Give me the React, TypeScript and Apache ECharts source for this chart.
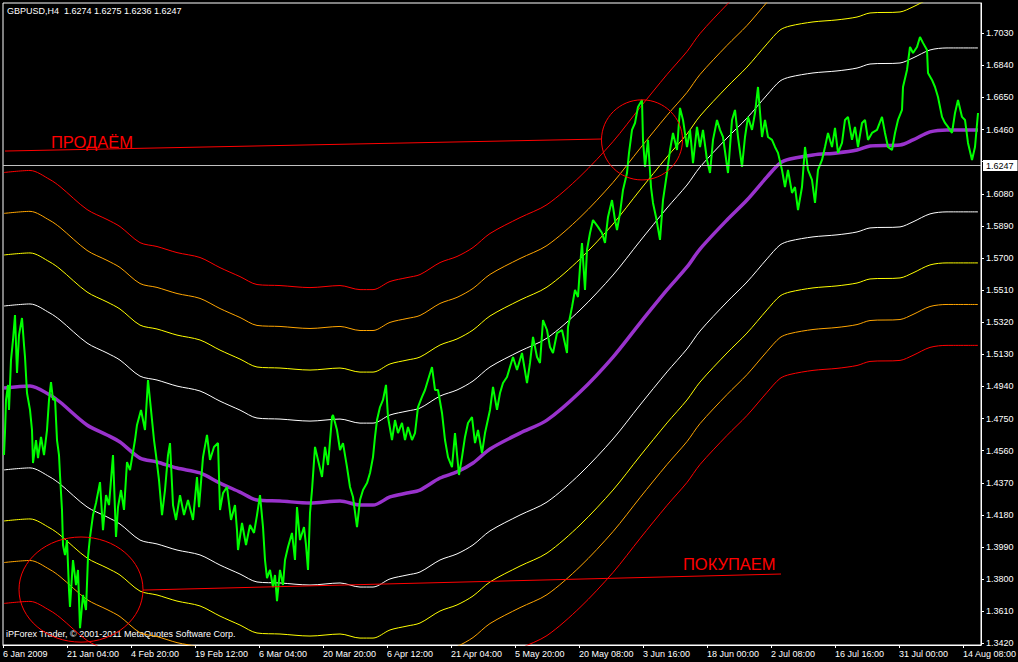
import React, { useEffect, useRef } from 'react';
import * as echarts from 'echarts';

const chartTitle = 'GBPUSD,H4  1.6274 1.6275 1.6236 1.6247';
const copyright = 'iPForex Trader, © 2001-2011 MetaQuotes Software Corp.';
const sellText = 'ПРОДАЁМ';
const buyText = 'ПОКУПАЕМ';
const lastPrice = 1.6247;

const xTickBars = [0, 64, 128, 192, 256, 320, 384, 448, 512, 576, 640, 704, 768, 832, 896, 960];
const xTickLabels = [
  '6 Jan 2009', '21 Jan 04:00', '4 Feb 20:00', '19 Feb 12:00', '6 Mar 04:00', '20 Mar 20:00',
  '6 Apr 12:00', '21 Apr 04:00', '5 May 20:00', '20 May 08:00', '3 Jun 16:00', '18 Jun 00:00',
  '2 Jul 08:00', '16 Jul 16:00', '31 Jul 00:00', '14 Aug 08:00',
];
const yTickValues = [
  1.342, 1.361, 1.38, 1.399, 1.418, 1.437, 1.456, 1.475, 1.494, 1.513,
  1.532, 1.551, 1.57, 1.589, 1.608, 1.627, 1.646, 1.665, 1.684, 1.703,
];

// close price line: [bar, price]
const closeLine: [number, number][] = [
  [1, 1.4534], [2, 1.4670], [3, 1.4860], [5, 1.4949], [6, 1.4801], [8, 1.5097], [10, 1.5215], [12, 1.5363],
  [14, 1.5020], [16, 1.5244], [19, 1.5345], [21, 1.5185], [22, 1.5114], [24, 1.4901], [27, 1.4801], [29, 1.4682],
  [30, 1.4487], [33, 1.4623], [35, 1.4516], [38, 1.4641], [41, 1.4534], [44, 1.4682], [46, 1.4860], [48, 1.4966],
  [50, 1.4860], [52, 1.4872], [54, 1.4623], [56, 1.4534], [57, 1.4416], [59, 1.4209], [60, 1.4002], [62, 1.3942],
  [64, 1.4031], [66, 1.3735], [67, 1.3635], [70, 1.3913], [73, 1.3765], [75, 1.3854], [77, 1.3510], [80, 1.3706],
  [83, 1.3617], [85, 1.3931], [87, 1.4049], [90, 1.4179], [93, 1.4250], [97, 1.4374], [100, 1.4090], [103, 1.4297],
  [106, 1.4238], [110, 1.4534], [113, 1.4049], [115, 1.4226], [118, 1.4327], [121, 1.4209], [124, 1.4493], [127, 1.4445],
  [132, 1.4623], [134, 1.4712], [138, 1.4801], [142, 1.4682], [145, 1.4978], [148, 1.4801], [151, 1.4623], [153, 1.4534],
  [156, 1.4386], [159, 1.4179], [162, 1.4327], [165, 1.4534], [167, 1.4605], [170, 1.4238], [173, 1.4150], [177, 1.4297],
  [181, 1.4179], [185, 1.4268], [190, 1.4150], [194, 1.4404], [196, 1.4226], [200, 1.4522], [204, 1.4653], [207, 1.4505],
  [211, 1.4582], [215, 1.4605], [217, 1.4209], [220, 1.4309], [224, 1.4345], [228, 1.4150], [232, 1.4238], [234, 1.4090],
  [235, 1.3972], [239, 1.4132], [243, 1.4002], [247, 1.4120], [251, 1.4073], [254, 1.4179], [257, 1.4297], [260, 1.4108],
  [262, 1.3913], [264, 1.3806], [267, 1.3854], [270, 1.3753], [272, 1.3824], [274, 1.3670], [277, 1.3854], [280, 1.3765],
  [282, 1.3913], [285, 1.3990], [289, 1.4073], [292, 1.3913], [294, 1.4226], [297, 1.4031], [301, 1.4108], [303, 1.4002],
  [305, 1.3854], [307, 1.4191], [309, 1.4327], [312, 1.4582], [315, 1.4505], [319, 1.4404], [322, 1.4582], [325, 1.4475],
  [329, 1.4759], [330, 1.4771], [334, 1.4682], [337, 1.4564], [340, 1.4605], [344, 1.4463], [347, 1.4345], [350, 1.4286],
  [354, 1.4108], [357, 1.4268], [360, 1.4327], [364, 1.4368], [367, 1.4428], [370, 1.4522], [372, 1.4641], [374, 1.4741],
  [377, 1.4818], [380, 1.4860], [383, 1.4949], [385, 1.4759], [389, 1.4623], [392, 1.4741], [395, 1.4664], [399, 1.4724],
  [402, 1.4623], [405, 1.4700], [409, 1.4623], [412, 1.4664], [415, 1.4818], [419, 1.4878], [422, 1.4919], [425, 1.4978],
  [429, 1.5055], [432, 1.4919], [435, 1.4919], [439, 1.4783], [442, 1.4623], [445, 1.4522], [449, 1.4463], [452, 1.4664],
  [456, 1.4416], [459, 1.4522], [462, 1.4641], [465, 1.4724], [469, 1.4759], [472, 1.4605], [475, 1.4682], [479, 1.4546],
  [482, 1.4664], [487, 1.4801], [490, 1.4937], [494, 1.4801], [497, 1.4901], [500, 1.4960], [504, 1.4996], [507, 1.5055],
  [510, 1.5114], [514, 1.5037], [519, 1.5138], [524, 1.4960], [527, 1.5079], [530, 1.5233], [534, 1.5114], [537, 1.5079],
  [540, 1.5333], [544, 1.5274], [547, 1.5173], [550, 1.5138], [554, 1.5256], [559, 1.5274], [564, 1.5138], [565, 1.5292],
  [569, 1.5410], [572, 1.5511], [575, 1.5469], [577, 1.5647], [579, 1.5789], [582, 1.5511], [584, 1.5748], [587, 1.5848],
  [590, 1.5925], [595, 1.5884], [599, 1.5848], [602, 1.5789], [605, 1.5943], [609, 1.6043], [612, 1.5925], [614, 1.5866],
  [617, 1.5966], [620, 1.6103], [624, 1.6203], [626, 1.6322], [629, 1.6458], [632, 1.6499], [635, 1.6594], [639, 1.6635],
  [640, 1.6399], [642, 1.6239], [645, 1.6399], [648, 1.6120], [650, 1.6026], [653, 1.5943], [657, 1.5807], [660, 1.6043],
  [664, 1.6203], [667, 1.6339], [670, 1.6440], [674, 1.6339], [677, 1.6588], [680, 1.6517], [684, 1.6357], [687, 1.6458],
  [690, 1.6262], [694, 1.6476], [697, 1.6357], [700, 1.6458], [704, 1.6280], [707, 1.6203], [710, 1.6399], [714, 1.6517],
  [717, 1.6458], [720, 1.6416], [725, 1.6203], [729, 1.6517], [732, 1.6576], [735, 1.6416], [739, 1.6239], [742, 1.6416],
  [745, 1.6535], [749, 1.6458], [752, 1.6558], [755, 1.6712], [759, 1.6416], [762, 1.6517], [765, 1.6416], [769, 1.6399],
  [772, 1.6357], [775, 1.6322], [779, 1.6221], [782, 1.6120], [785, 1.6221], [789, 1.6085], [792, 1.6120], [795, 1.5984],
  [799, 1.6120], [802, 1.6357], [805, 1.6221], [809, 1.6162], [812, 1.6026], [815, 1.6221], [819, 1.6280], [822, 1.6357],
  [825, 1.6440], [829, 1.6357], [832, 1.6470], [835, 1.6322], [839, 1.6381], [842, 1.6517], [845, 1.6535], [849, 1.6399],
  [852, 1.6476], [855, 1.6357], [859, 1.6499], [862, 1.6517], [865, 1.6399], [869, 1.6440], [874, 1.6458], [879, 1.6535],
  [882, 1.6440], [885, 1.6357], [889, 1.6339], [892, 1.6440], [895, 1.6517], [899, 1.6576], [900, 1.6712], [904, 1.6813],
  [907, 1.6949], [910, 1.6913], [914, 1.6949], [917, 1.7008], [920, 1.6973], [924, 1.6931], [925, 1.6795], [929, 1.6754],
  [932, 1.6712], [935, 1.6653], [939, 1.6535], [942, 1.6499], [945, 1.6476], [949, 1.6440], [952, 1.6558], [955, 1.6635],
  [959, 1.6535], [962, 1.6517], [965, 1.6381], [969, 1.6280], [972, 1.6357], [975, 1.6558],
];

// smoothed centre line (purple): [bar, price]
const centerLine: [number, number][] = [
  [1, 1.4931], [27, 1.4943], [47, 1.4889], [57, 1.4848], [84, 1.4712], [104, 1.4653], [117, 1.4611], [137, 1.4516],
  [154, 1.4493], [174, 1.4457], [197, 1.4428], [217, 1.4368], [237, 1.4315], [254, 1.4268], [277, 1.4262], [307, 1.4250],
  [337, 1.4262], [357, 1.4238], [370, 1.4238], [387, 1.4286], [404, 1.4309], [417, 1.4327], [437, 1.4398], [454, 1.4434],
  [470, 1.4487], [487, 1.4570], [517, 1.4664], [544, 1.4741], [577, 1.4907], [610, 1.5114], [637, 1.5315], [664, 1.5511],
  [684, 1.5647], [697, 1.5753], [724, 1.5925], [744, 1.6043], [764, 1.6180], [777, 1.6262], [787, 1.6286], [810, 1.6310],
  [834, 1.6322], [854, 1.6339], [867, 1.6363], [897, 1.6369], [910, 1.6399], [927, 1.6446], [944, 1.6458], [975, 1.6458],
];

// channel offsets around the centre line (price units) and their colours
const bandOffsets = [0.0485, 0.0787, 0.1033, 0.1275];
const bandColors = ['#FFFFFF', '#FFFF00', '#FFA500', '#FF0000'];

// hand-drawn objects
const sellLine: [number, number][] = [[2, 1.6333], [598, 1.6404]];
const buyLine: [number, number][] = [[140, 1.3735], [778, 1.3830]];
// [centre bar, centre price, radius in bars, radius in price]
const ellipses: number[][] = [
  [78, 1.3738, 62, 0.0311],
  [639, 1.6399, 40.5, 0.0237],
];

const FONT = '"Liberation Sans", Arial, sans-serif';

function buildOption(): any {
  const bandSeries = bandOffsets.flatMap((off, i) =>
    [1, -1].map((sign) => ({
      type: 'line',
      name: `band${i}${sign > 0 ? 'u' : 'd'}`,
      data: centerLine.map(([b, v]) => [b, +(v + sign * off).toFixed(4)]),
      smooth: 0.3,
      symbol: 'none',
      silent: true,
      lineStyle: { color: bandColors[i], width: 1 },
      z: 2,
    }))
  );

  return {
    animation: false,
    backgroundColor: '#000',
    grid: {
      left: 3, right: 37, top: 3, bottom: 17,
      show: true, borderColor: '#FFFFFF', borderWidth: 1, backgroundColor: '#000',
      containLabel: false, outerBoundsMode: 'none',
    },
    xAxis: {
      type: 'value', min: 0, max: 978,
      axisLine: { show: true, lineStyle: { color: '#FFFFFF', width: 1 } },
      axisTick: { show: true, length: 3, customValues: xTickBars, lineStyle: { color: '#FFFFFF' } },
      axisLabel: {
        show: true, customValues: xTickBars, color: '#FFFFFF', fontSize: 9, fontFamily: FONT,
        align: 'left', margin: 4, hideOverlap: false,
        formatter: (v: number) => {
          const i = xTickBars.indexOf(Math.round(v));
          return i >= 0 ? xTickLabels[i] : '';
        },
      },
      splitLine: { show: false },
    },
    yAxis: {
      type: 'value', position: 'right', min: 1.341, max: 1.7209, scale: true,
      axisLine: { show: true, onZero: false, lineStyle: { color: '#FFFFFF', width: 1 } },
      axisTick: { show: true, length: 3, customValues: yTickValues, lineStyle: { color: '#FFFFFF' } },
      axisLabel: {
        show: true,
        // the tick label next to the last-price box is covered by it, as in the terminal
        customValues: yTickValues.filter((v) => Math.abs(v - lastPrice) > 0.005),
        color: '#FFFFFF', fontSize: 9, fontFamily: FONT,
        margin: 5, hideOverlap: false,
        formatter: (v: number) => v.toFixed(4),
      },
      splitLine: { show: false },
    },
    graphic: [
      { type: 'text', x: 7, y: 6, silent: true, style: { text: chartTitle, fill: '#FFFFFF', font: `9px ${FONT}`, textVerticalAlign: 'top' } },
      { type: 'text', x: 6, y: 629, silent: true, style: { text: copyright, fill: '#FFFFFF', font: `9px ${FONT}`, textVerticalAlign: 'top' } },
      { type: 'text', x: 51, y: 133.5, silent: true, style: { text: sellText, fill: '#FF0000', font: `16.5px ${FONT}`, textVerticalAlign: 'top' } },
      { type: 'text', x: 683, y: 555.5, silent: true, style: { text: buyText, fill: '#FF0000', font: `16.5px ${FONT}`, textVerticalAlign: 'top' } },
    ],
    series: [
      ...bandSeries,
      {
        type: 'line', name: 'centre', data: centerLine, smooth: 0.3, symbol: 'none', silent: true,
        lineStyle: { color: '#9932CC', width: 3.5 }, z: 3,
      },
      {
        type: 'line', name: 'close', data: closeLine, symbol: 'none', silent: true,
        lineStyle: { color: '#00FF00', width: 2 }, z: 4,
        markLine: {
          silent: true, symbol: 'none', animation: false, precision: 4,
          lineStyle: { color: '#C0C0C0', width: 1, type: 'solid' },
          label: {
            show: true, position: 'end', formatter: lastPrice.toFixed(4), color: '#000', backgroundColor: '#FFFFFF',
            padding: [1, 4, 1, 3], fontSize: 9, fontFamily: FONT, distance: 2,
          },
          data: [{ yAxis: lastPrice }],
        },
      },
      {
        type: 'line', name: 'sell', data: sellLine, symbol: 'none', silent: true,
        lineStyle: { color: '#FF0000', width: 1 }, z: 5,
      },
      {
        type: 'line', name: 'buy', data: buyLine, symbol: 'none', silent: true,
        lineStyle: { color: '#FF0000', width: 1 }, z: 5,
      },
      {
        type: 'custom', name: 'ellipses', data: ellipses, silent: true, clip: true, z: 5,
        encode: { x: 0, y: 1 },
        renderItem: (_params: any, api: any) => {
          const c = api.coord([api.value(0), api.value(1)]);
          const s = api.size([api.value(2), api.value(3)]);
          return {
            type: 'ellipse',
            shape: { cx: c[0], cy: c[1], rx: s[0], ry: s[1] },
            style: { fill: 'none', stroke: '#FF0000', lineWidth: 1 },
          };
        },
      },
    ],
  };
}

export default function App() {
  const ref = useRef<HTMLDivElement>(null);
  useEffect(() => {
    if (!ref.current) return;
    const chart = echarts.init(ref.current, undefined, { renderer: 'svg' });
    chart.setOption(buildOption());
    return () => chart.dispose();
  }, []);
  return (
    <div
      ref={ref}
      style={{ position: 'fixed', left: 0, top: 0, width: 1018, height: 662, background: '#000' }}
    />
  );
}
